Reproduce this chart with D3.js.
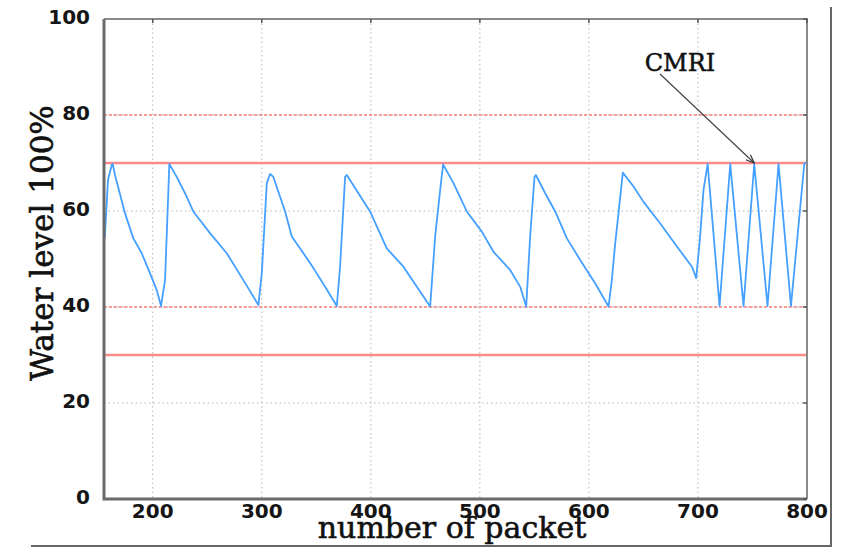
<!DOCTYPE html>
<html>
<head>
<meta charset="utf-8">
<script src="https://cdn.jsdelivr.net/npm/d3@7"></script>
<style>
  body { margin: 0; background: #fff; }
  svg { display: block; }
</style>
</head>
<body>
<script>
// sampled water level readings (packet number, level %)
var packetX = [156, 159, 162.4, 163.3, 165.4, 174.6, 182.2, 189.9, 197.5, 203.7, 207.6,
  211.3, 214.3, 215.2, 222, 229.6, 237.2, 252.5, 267.9, 283.1, 296.9,
  300, 304.6, 307.6, 310.6, 321.4, 327.5, 338.2, 347.3, 358.1, 368.8,
  371.8, 376.4, 378, 388.6, 399.3, 414.6, 429.9, 442.2, 454.4,
  459, 463.6, 466.3, 475.8, 488, 501.8, 512.5, 527.8, 537, 542.5,
  546.1, 550.1, 551.3, 559.9, 569.1, 579.8, 592, 605.8, 618,
  621, 624.1, 627.1, 631.1, 640.9, 650.1, 665.4, 680.7, 694.5, 698.4,
  702, 705.1, 708.9, 719.8, 729.6, 741.8, 751.6, 763.8, 773.9, 785.3, 797.5, 800];
var waterLevel = [54.3, 66.5, 69.6, 69.8, 67.5, 59.5, 54.3, 51.2, 47, 43.5, 40.2,
  45.6, 64, 69.8, 67.1, 63.7, 59.9, 55.4, 51.2, 45.6, 40.4,
  47, 65.8, 67.7, 67.1, 59.9, 54.7, 51.2, 48.1, 44.2, 40.2,
  48.4, 67.1, 67.5, 63.7, 59.9, 52.2, 48.4, 44.2, 40.1,
  54.7, 64.4, 69.7, 65.8, 59.9, 55.7, 51.5, 47.7, 44.2, 40.1,
  54.7, 67.1, 67.5, 63.7, 59.9, 54.3, 49.8, 44.9, 40.1,
  45.6, 53.2, 59.5, 68, 65.1, 61.9, 57.4, 52.6, 48.4, 46,
  54.7, 64.4, 69.8, 40.2, 69.8, 40.2, 69.8, 40.2, 69.8, 40.2, 69.8, 70.2];

var solidLimits = [70, 30];
var dashedLimits = [80, 40];
var xTicks = [200, 300, 400, 500, 600, 700, 800];
var yTicks = [0, 20, 40, 60, 80, 100];
var annotation = { label: "CMRI", x: 751.6, y: 70 };

var W = 841, H = 547;
var margin = {top: 19, right: 34, bottom: 48, left: 104},
    width = W - margin.left - margin.right,
    height = H - margin.top - margin.bottom;

var svg = d3.select("body").append("svg")
    .attr("width", W)
    .attr("height", H);

// outer figure border (right + bottom)
svg.append("path")
    .attr("d", "M31,546H831V7")
    .attr("fill", "none")
    .attr("stroke", "#666")
    .attr("stroke-width", 2);

var g = svg.append("g")
    .attr("transform", "translate(" + margin.left + "," + margin.top + ")");

var x = d3.scaleLinear().domain([155.3, 800]).range([0, width]);
var y = d3.scaleLinear().domain([0, 100]).range([height, 0]);

g.append("defs").append("clipPath").attr("id", "clip")
  .append("rect").attr("width", width).attr("height", height);

// dotted grid
g.append("g").selectAll("line.gx")
  .data(xTicks.filter(function(d) { return d < 800; }))
  .enter().append("line")
    .attr("x1", function(d) { return x(d); })
    .attr("x2", function(d) { return x(d); })
    .attr("y1", 0).attr("y2", height)
    .attr("stroke", "#b5b5b5")
    .attr("stroke-dasharray", "1.5,3");

g.append("g").selectAll("line.gy")
  .data(yTicks.filter(function(d) { return d > 0 && d < 100; }))
  .enter().append("line")
    .attr("x1", 0).attr("x2", width)
    .attr("y1", function(d) { return y(d); })
    .attr("y2", function(d) { return y(d); })
    .attr("stroke", "#b5b5b5")
    .attr("stroke-dasharray", "1.5,3");

// threshold lines
g.append("g").selectAll("line")
  .data(dashedLimits)
  .enter().append("line")
    .attr("x1", 0).attr("x2", width)
    .attr("y1", function(d) { return y(d); })
    .attr("y2", function(d) { return y(d); })
    .attr("stroke", "#ff7f7f")
    .attr("stroke-width", 1.4)
    .attr("stroke-dasharray", "3,2");

g.append("g").selectAll("line")
  .data(solidLimits)
  .enter().append("line")
    .attr("x1", 0).attr("x2", width)
    .attr("y1", function(d) { return y(d); })
    .attr("y2", function(d) { return y(d); })
    .attr("stroke", "#ff8a8a")
    .attr("stroke-width", 2.4);

// the series
var line = d3.line()
    .x(function(d, i) { return x(packetX[i]); })
    .y(function(d) { return y(d); });

g.append("path")
    .datum(waterLevel)
    .attr("clip-path", "url(#clip)")
    .attr("d", line)
    .attr("fill", "none")
    .attr("stroke", "#45a0ff")
    .attr("stroke-width", 1.8)
    .attr("stroke-linejoin", "round");

// frame
g.append("path")
    .attr("d", "M0,0H" + width + "V" + height)
    .attr("fill", "none")
    .attr("stroke", "#8a8a8a")
    .attr("stroke-width", 2);
g.append("path")
    .attr("d", "M0,0V" + height + "H" + width)
    .attr("fill", "none")
    .attr("stroke", "#6a6a6a")
    .attr("stroke-width", 3);

// ticks on all four sides, inward
var tickLen = 4;
g.append("g").selectAll("line")
  .data(xTicks)
  .enter().append("line")
    .attr("x1", function(d) { return x(d); })
    .attr("x2", function(d) { return x(d); })
    .attr("y1", 0).attr("y2", tickLen)
    .attr("stroke", "#555").attr("stroke-width", 1.5);
g.append("g").selectAll("line")
  .data(yTicks)
  .enter().append("line")
    .attr("x1", width - tickLen).attr("x2", width)
    .attr("y1", function(d) { return y(d); })
    .attr("y2", function(d) { return y(d); })
    .attr("stroke", "#555").attr("stroke-width", 1.5);

// tick labels
g.append("g").selectAll("text")
  .data(xTicks)
  .enter().append("text")
    .attr("x", function(d) { return x(d); })
    .attr("y", height + 19)
    .attr("text-anchor", "middle")
    .style("font-family", "'DejaVu Sans', sans-serif")
    .style("font-weight", "bold")
    .style("font-size", "20px")
    .attr("fill", "#151515")
    .text(function(d) { return d; });

g.append("g").selectAll("text")
  .data(yTicks)
  .enter().append("text")
    .attr("x", -14)
    .attr("y", function(d) { return y(d) + 5; })
    .attr("text-anchor", "end")
    .style("font-family", "'DejaVu Sans', sans-serif")
    .style("font-weight", "bold")
    .style("font-size", "20px")
    .attr("fill", "#151515")
    .text(function(d) { return d; });

// axis titles
svg.append("text")
    .attr("x", 452)
    .attr("y", 538)
    .attr("text-anchor", "middle")
    .style("font-family", "'DejaVu Serif', serif")
    .style("font-size", "30px")
    .attr("fill", "#111")
    .attr("stroke", "#111")
    .attr("stroke-width", 0.6)
    .text("number of packet");

svg.append("text")
    .attr("transform", "translate(53,243) rotate(-90)")
    .attr("text-anchor", "middle")
    .style("font-family", "'DejaVu Serif', serif")
    .style("font-size", "31px")
    .attr("fill", "#111")
    .attr("stroke", "#111")
    .attr("stroke-width", 0.6)
    .text("Water level 100%");

// annotation
svg.append("defs").append("marker")
    .attr("id", "arrow")
    .attr("viewBox", "0 0 10 10")
    .attr("refX", 10).attr("refY", 5)
    .attr("markerWidth", 9).attr("markerHeight", 7)
    .attr("orient", "auto")
  .append("path")
    .attr("d", "M0,1L10,5L0,9")
    .attr("fill", "none")
    .attr("stroke", "#333")
    .attr("stroke-width", 1.4);

svg.append("line")
    .attr("x1", 660).attr("y1", 74)
    .attr("x2", margin.left + x(annotation.x))
    .attr("y2", margin.top + y(annotation.y))
    .attr("stroke", "#444")
    .attr("stroke-width", 1.2)
    .attr("marker-end", "url(#arrow)");

svg.append("text")
    .attr("x", 680)
    .attr("y", 71)
    .attr("text-anchor", "middle")
    .style("font-family", "'DejaVu Serif', serif")
    .style("font-size", "24px")
    .attr("fill", "#111")
    .attr("stroke", "#111")
    .attr("stroke-width", 0.5)
    .text(annotation.label);
</script>
</body>
</html>
